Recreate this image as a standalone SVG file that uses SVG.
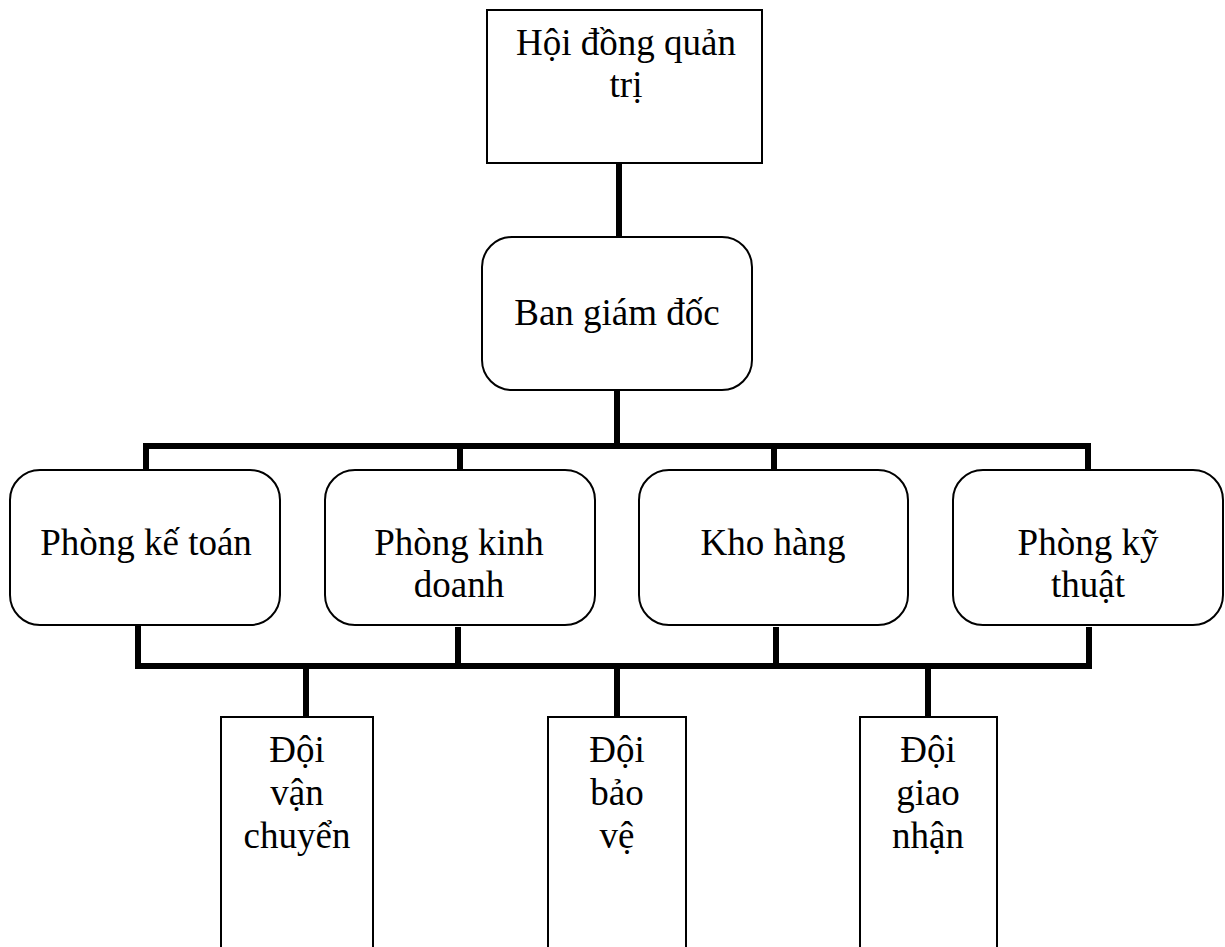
<svg xmlns="http://www.w3.org/2000/svg" width="1225" height="947" viewBox="0 0 1225 947">
<style>
.box{fill:#fff;stroke:#000;stroke-width:2}
.t{font-family:"Liberation Serif","Times New Roman",serif;font-size:37px;fill:#000;text-anchor:middle}
.c{stroke:#000;stroke-width:6;fill:none;stroke-linecap:square}
</style>
<rect width="1225" height="947" fill="#fff"/>
<g id="connectors">
<line class="c" x1="619" y1="164" x2="619" y2="236"/>
<line class="c" x1="617" y1="391" x2="617" y2="446"/>
<polyline class="c" points="146,469 146,446 1088,446 1088,469"/>
<line class="c" x1="460" y1="446" x2="460" y2="469"/>
<line class="c" x1="774" y1="446" x2="774" y2="469"/>
<polyline class="c" points="138,626 138,666 1089,666 1089,630"/>
<line class="c" x1="458" y1="630" x2="458" y2="666"/>
<line class="c" x1="776" y1="630" x2="776" y2="666"/>
<line class="c" x1="306" y1="666" x2="306" y2="713"/>
<line class="c" x1="617" y1="666" x2="617" y2="713"/>
<line class="c" x1="928" y1="666" x2="928" y2="713"/>
</g>
<g id="hdqt">
<rect class="box" x="487" y="10" width="275" height="153"/>
<text class="t" x="626" y="55">Hội đồng quản</text>
<text class="t" x="626" y="97">trị</text>
</g>
<g id="bgd">
<rect class="box" x="482" y="237" width="270" height="153" rx="30"/>
<text class="t" x="617" y="325">Ban giám đốc</text>
</g>
<g id="pkt">
<rect class="box" x="10" y="470" width="270" height="155" rx="30"/>
<text class="t" x="146" y="555">Phòng kế toán</text>
</g>
<g id="pkd">
<rect class="box" x="325" y="470" width="270" height="155" rx="30"/>
<text class="t" x="459" y="555">Phòng kinh</text>
<text class="t" x="459" y="597">doanh</text>
</g>
<g id="kho">
<rect class="box" x="639" y="470" width="269" height="155" rx="30"/>
<text class="t" x="773" y="555">Kho hàng</text>
</g>
<g id="pkythuat">
<rect class="box" x="953" y="470" width="270" height="155" rx="30"/>
<text class="t" x="1088" y="555">Phòng kỹ</text>
<text class="t" x="1088" y="597">thuật</text>
</g>
<g id="dvc">
<rect class="box" x="221" y="717" width="152" height="245"/>
<text class="t" x="297" y="762">Đội</text>
<text class="t" x="297" y="805">vận</text>
<text class="t" x="297" y="848">chuyển</text>
</g>
<g id="dbv">
<rect class="box" x="548" y="717" width="138" height="245"/>
<text class="t" x="617" y="762">Đội</text>
<text class="t" x="617" y="805">bảo</text>
<text class="t" x="617" y="848">vệ</text>
</g>
<g id="dgn">
<rect class="box" x="860" y="717" width="137" height="245"/>
<text class="t" x="928" y="762">Đội</text>
<text class="t" x="928" y="805">giao</text>
<text class="t" x="928" y="848">nhận</text>
</g>
</svg>
